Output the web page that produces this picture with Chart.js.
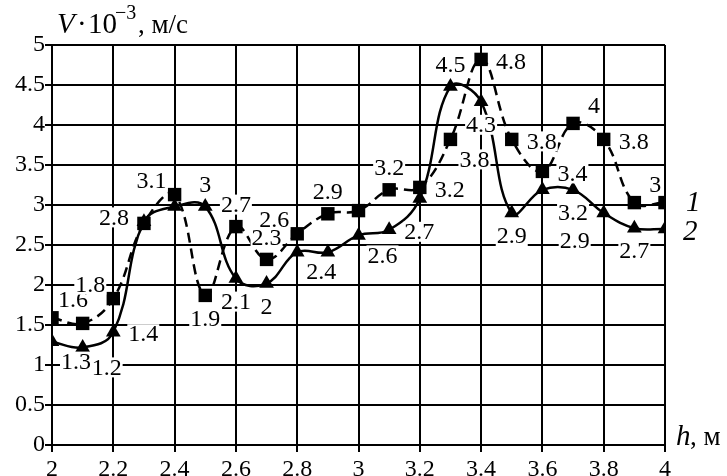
<!DOCTYPE html>
<html>
<head>
<meta charset="utf-8">
<script src="https://cdn.jsdelivr.net/npm/chart.js@4.4.0/dist/chart.umd.min.js"></script>
<style>
  html, body { margin: 0; padding: 0; background: #fff; }
  #wrap { width: 727px; height: 476px; }
</style>
</head>
<body>
<div id="wrap"><canvas id="chart" width="727" height="476"></canvas></div>
<script>
// h, m
const depth = [2.0, 2.1, 2.2, 2.3, 2.4, 2.5, 2.6, 2.7, 2.8, 2.9, 3.0, 3.1, 3.2, 3.3, 3.4, 3.5, 3.6, 3.7, 3.8, 3.9, 4.0];
// V*10^-3, m/s
const speed1 = [1.59, 1.52, 1.83, 2.77, 3.13, 1.87, 2.73, 2.32, 2.64, 2.89, 2.93, 3.19, 3.22, 3.82, 4.82, 3.82, 3.42, 4.02, 3.82, 3.03, 3.03];
const speed2 = [1.29, 1.22, 1.41, 2.79, 2.98, 2.98, 2.08, 2.02, 2.41, 2.41, 2.62, 2.69, 3.08, 4.48, 4.29, 2.90, 3.19, 3.19, 2.90, 2.71, 2.70];

// where each value label sits (null = no label)
const place1 = ['ne', null, 'nw', 'w', 'nw', 's', 'n', 'n', 'nw', 'n', null, 'n', 'e', 'se', 'e', 'e', 'e', 'ne', 'e', 'ne', null];
const place2 = ['se', 'se', 'e', null, null, 'n', 's', 's', 'se', null, 'se', 'e', null, 'n', 's', 's', null, 's', 'sw', 's', null];

const xTicks = [2, 2.2, 2.4, 2.6, 2.8, 3, 3.2, 3.4, 3.6, 3.8, 4];
const yTicks = [0, 0.5, 1, 1.5, 2, 2.5, 3, 3.5, 4, 4.5, 5];

const FONT = '"Liberation Serif", "Times New Roman", serif';
const fmt = (v) => String(Math.round(v * 10) / 10);

const offsets = {
  n: [0, -22], s: [0, 23], e: [30, 2], w: [-30, -6],
  ne: [21, -18], nw: [-23, -14], se: [24, 20], sw: [-29, 28],
};

const valueLabels = {
  id: 'valueLabels',
  afterDatasetsDraw(chart) {
    const ctx = chart.ctx;
    ctx.save();
    ctx.font = '24px ' + FONT;
    ctx.textAlign = 'center';
    ctx.textBaseline = 'middle';
    [place1, place2].forEach((places, di) => {
      const meta = chart.getDatasetMeta(di);
      const values = chart.data.datasets[di].data;
      places.forEach((p, i) => {
        if (!p) return;
        const pt = meta.data[i];
        const x = pt.x + offsets[p][0];
        const y = pt.y + offsets[p][1];
        const text = fmt(values[i].y);
        const w = ctx.measureText(text).width + 2;
        ctx.fillStyle = '#fff';
        ctx.fillRect(x - w / 2, y - 10, w, 20);
        ctx.fillStyle = '#000';
        ctx.fillText(text, x, y + 1);
      });
    });
    ctx.restore();
  },
  afterDraw(chart) {
    const ctx = chart.ctx;
    const area = chart.chartArea;
    ctx.save();
    ctx.fillStyle = '#000';
    ctx.textBaseline = 'alphabetic';
    ctx.textAlign = 'left';

    // y title
    ctx.font = 'italic 29px ' + FONT;
    ctx.fillText('V', 57, 33);
    ctx.font = '29px ' + FONT;
    ctx.fillText('·', 77, 33);
    ctx.fillText('10', 88, 33);
    ctx.font = '20px ' + FONT;
    ctx.fillText('\u22123', 115, 19);
    ctx.font = '27px ' + FONT;
    ctx.fillText(', м/с', 138, 33);

    // x title
    ctx.font = 'italic 29px ' + FONT;
    ctx.fillText('h', 676, area.bottom);
    ctx.font = '27px ' + FONT;
    ctx.fillText(', м', 690, area.bottom);

    // series numbers
    const m1 = chart.getDatasetMeta(0).data;
    const m2 = chart.getDatasetMeta(1).data;
    ctx.font = 'italic 29px ' + FONT;
    ctx.textBaseline = 'middle';
    ctx.fillText('1', 686, m1[m1.length - 1].y + 1);
    ctx.fillText('2', 683, m2[m2.length - 1].y + 3);
    ctx.restore();
  },
};

const axisStyle = {
  grid: { color: '#000', lineWidth: 2, tickLength: 7, drawTicks: true },
  border: { color: '#000', width: 2 },
};

new Chart(document.getElementById('chart'), {
  type: 'line',
  data: {
    datasets: [
      {
        label: '1',
        data: depth.map((h, i) => ({ x: h, y: speed1[i] })),
        borderColor: '#000',
        backgroundColor: '#000',
        borderWidth: 2.5,
        borderDash: [10, 6],
        tension: 0.4,
        pointStyle: 'rect',
        pointRadius: 9.5,
        pointBorderWidth: 0,
      },
      {
        label: '2',
        data: depth.map((h, i) => ({ x: h, y: speed2[i] })),
        borderColor: '#000',
        backgroundColor: '#000',
        borderWidth: 2.5,
        tension: 0.4,
        pointStyle: 'triangle',
        pointRadius: 8.5,
        pointBorderWidth: 0,
      },
    ],
  },
  options: {
    responsive: false,
    animation: false,
    layout: { padding: { left: 0, right: 62, top: 45, bottom: 0 } },
    plugins: { legend: { display: false }, tooltip: { enabled: false } },
    scales: {
      x: {
        type: 'linear',
        min: 2,
        max: 4,
        afterBuildTicks: (s) => { s.ticks = xTicks.map((v) => ({ value: v })); },
        afterFit: (s) => { s.height = 31; },
        ...axisStyle,
        ticks: {
          color: '#000',
          font: { family: FONT, size: 24 },
          padding: 3,
          maxRotation: 0,
          autoSkip: false,
          callback: (v) => fmt(v),
        },
      },
      y: {
        min: 0,
        max: 5,
        afterBuildTicks: (s) => { s.ticks = yTicks.map((v) => ({ value: v })); },
        afterFit: (s) => { s.width = 52; },
        ...axisStyle,
        ticks: {
          color: '#000',
          font: { family: FONT, size: 24 },
          padding: 0,
          autoSkip: false,
          callback: (v) => fmt(v),
        },
      },
    },
  },
  plugins: [valueLabels],
});
</script>
</body>
</html>
